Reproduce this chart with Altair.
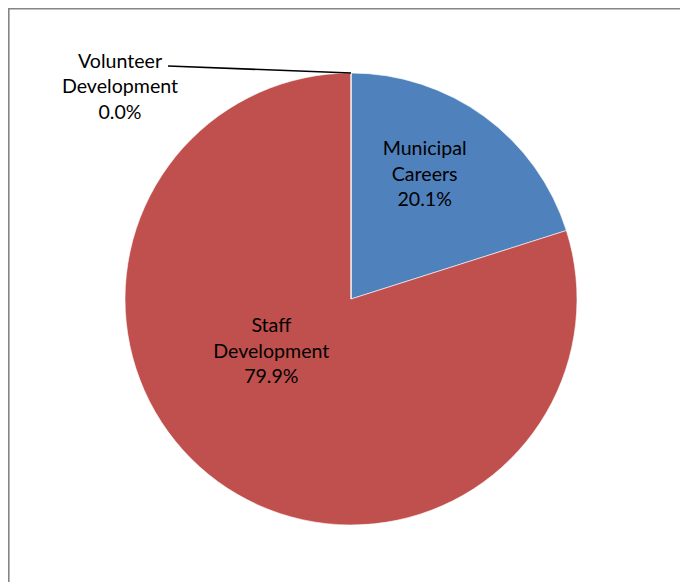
import altair as alt
import pandas as pd

categories = ["Municipal Careers", "Staff Development", "Volunteer Development"]
shares = [20.1, 79.9, 0.0]
colors = ["#4F81BD", "#C0504D", "#9BBB59"]

df = pd.DataFrame({
    "category": categories,
    "share": shares,
    "order": list(range(len(categories))),
})
df["label"] = [c.replace(" ", "\n") + f"\n{v:.1f}%" for c, v in zip(categories, shares)]

CX, CY, R = 343, 291, 226
FONT = "Lato"
FS = 19.6
LH = 25.5

base = alt.Chart(df)

pie = base.mark_arc(radius=R, stroke="white", strokeWidth=0.6).encode(
    theta=alt.Theta("share:Q", stack=True),
    order=alt.Order("order:Q"),
    color=alt.Color("category:N", scale=alt.Scale(domain=categories, range=colors), legend=None),
    x=alt.value(CX),
    y=alt.value(CY),
)

def label_layer(cat, radius, dx, dy):
    return base.transform_window(
        cum="sum(share)", sort=[alt.SortField("order")]
    ).transform_calculate(
        mid="datum.cum - datum.share / 2"
    ).transform_filter(
        alt.datum.category == cat
    ).mark_text(
        radius=radius, dx=dx, dy=dy - LH, font=FONT, fontSize=FS, lineBreak="\n",
        lineHeight=LH, align="center", baseline="middle", color="#000000",
    ).encode(
        theta=alt.Theta("mid:Q", stack=None, scale=alt.Scale(domain=[0, 100])),
        text="label:N",
        x=alt.value(CX),
        y=alt.value(CY),
    )

lab_muni = label_layer("Municipal Careers", 140, -9, -11)
lab_staff = label_layer("Staff Development", 96, -23, -24.5)
lab_vol = label_layer("Volunteer Development", 212, -231, 0)

leader = alt.Chart(alt.Data(values=[{}])).mark_rule(color="#000000", strokeWidth=1.6).encode(
    x=alt.value(160), y=alt.value(58), x2=alt.value(CX), y2=alt.value(65)
)
frame_top = alt.Chart(alt.Data(values=[{}])).mark_rule(color="#858585", strokeWidth=1.6).encode(
    x=alt.value(0), x2=alt.value(700), y=alt.value(0.8)
)
frame_left = alt.Chart(alt.Data(values=[{}])).mark_rule(color="#858585", strokeWidth=1.6).encode(
    x=alt.value(0.8), y=alt.value(0), y2=alt.value(600)
)

chart = alt.layer(
    pie, lab_muni, lab_staff, lab_vol, leader, frame_top, frame_left
).resolve_scale(theta="independent").properties(
    width=672, height=574, padding=0, autosize=alt.AutoSizeParams(type="none")
).configure_view(stroke=None)

chart.save("out.html", embed_options={"renderer": "svg", "actions": False})
